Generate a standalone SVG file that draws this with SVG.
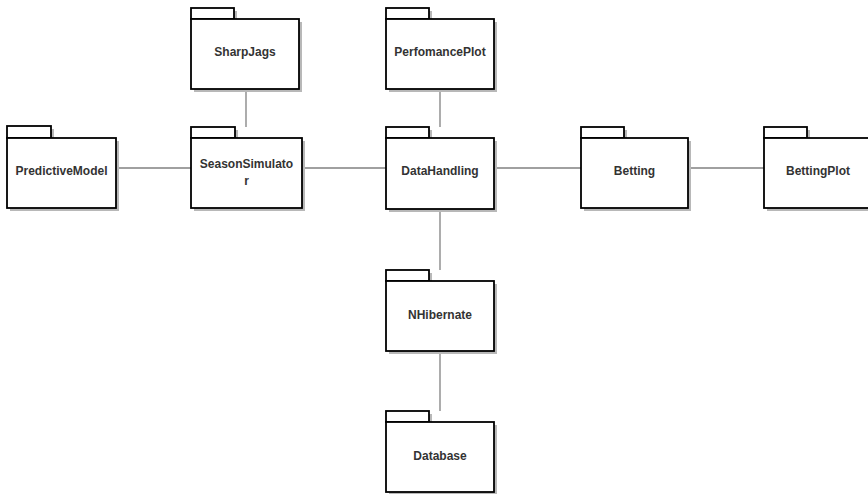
<svg xmlns="http://www.w3.org/2000/svg" width="868" height="494" viewBox="0 0 868 494">
<style>
.sh{fill:#b8b8b8;stroke:none}
.pk{fill:#ffffff;stroke:#000000;stroke-width:1.8}
.lb{font-family:"Liberation Sans",Arial,Helvetica,sans-serif;font-size:12px;font-weight:bold;fill:#333333;text-anchor:middle}
.cn{stroke:#808080;stroke-width:1.3;fill:none}
</style>
<rect width="868" height="494" fill="#ffffff"/>
<g id="connectors">
<line class="cn" x1="116" y1="168" x2="191" y2="168"/>
<line class="cn" x1="246" y1="89" x2="246" y2="127"/>
<line class="cn" x1="302" y1="168" x2="386" y2="168"/>
<line class="cn" x1="440" y1="89" x2="440" y2="127"/>
<line class="cn" x1="494" y1="168" x2="581" y2="168"/>
<line class="cn" x1="688" y1="168" x2="764" y2="168"/>
<line class="cn" x1="440" y1="209" x2="440" y2="270"/>
<line class="cn" x1="440" y1="351" x2="440" y2="411"/>
</g>
<g id="PredictiveModel">
<rect class="sh" x="10" y="129" width="44" height="12"/><rect class="sh" x="10" y="141" width="109" height="70"/>
<rect class="pk" x="7" y="126" width="44" height="12"/><rect class="pk" x="7" y="138" width="109" height="70"/>
<text class="lb" x="61.5" y="175">PredictiveModel</text>
</g>
<g id="SeasonSimulator">
<rect class="sh" x="194" y="130" width="44" height="11"/><rect class="sh" x="194" y="141" width="111" height="70"/>
<rect class="pk" x="191" y="127" width="44" height="11"/><rect class="pk" x="191" y="138" width="111" height="70"/>
<text class="lb" x="246.5" y="168"><tspan x="246.5">SeasonSimulato</tspan><tspan x="246.5" y="184.5">r</tspan></text>
</g>
<g id="SharpJags">
<rect class="sh" x="194" y="11" width="43" height="11"/><rect class="sh" x="194" y="22" width="108" height="70"/>
<rect class="pk" x="191" y="8" width="43" height="11"/><rect class="pk" x="191" y="19" width="108" height="70"/>
<text class="lb" x="245" y="56">SharpJags</text>
</g>
<g id="PerfomancePlot">
<rect class="sh" x="389" y="11" width="43" height="11"/><rect class="sh" x="389" y="22" width="108" height="70"/>
<rect class="pk" x="386" y="8" width="43" height="11"/><rect class="pk" x="386" y="19" width="108" height="70"/>
<text class="lb" x="440" y="56">PerfomancePlot</text>
</g>
<g id="DataHandling">
<rect class="sh" x="389" y="130" width="43" height="11"/><rect class="sh" x="389" y="141" width="108" height="71"/>
<rect class="pk" x="386" y="127" width="43" height="11"/><rect class="pk" x="386" y="138" width="108" height="71"/>
<text class="lb" x="440" y="175">DataHandling</text>
</g>
<g id="Betting">
<rect class="sh" x="584" y="130" width="43" height="11"/><rect class="sh" x="584" y="141" width="107" height="70"/>
<rect class="pk" x="581" y="127" width="43" height="11"/><rect class="pk" x="581" y="138" width="107" height="70"/>
<text class="lb" x="634.5" y="175">Betting</text>
</g>
<g id="BettingPlot">
<rect class="sh" x="767" y="130" width="43" height="11"/><rect class="sh" x="767" y="141" width="108" height="70"/>
<rect class="pk" x="764" y="127" width="43" height="11"/><rect class="pk" x="764" y="138" width="108" height="70"/>
<text class="lb" x="818" y="175">BettingPlot</text>
</g>
<g id="NHibernate">
<rect class="sh" x="389" y="273" width="43" height="11"/><rect class="sh" x="389" y="284" width="108" height="70"/>
<rect class="pk" x="386" y="270" width="43" height="11"/><rect class="pk" x="386" y="281" width="108" height="70"/>
<text class="lb" x="440" y="318.5">NHibernate</text>
</g>
<g id="Database">
<rect class="sh" x="389" y="414" width="43" height="11"/><rect class="sh" x="389" y="425" width="108" height="70"/>
<rect class="pk" x="386" y="411" width="43" height="11"/><rect class="pk" x="386" y="422" width="108" height="70"/>
<text class="lb" x="440" y="459.5">Database</text>
</g>
</svg>
